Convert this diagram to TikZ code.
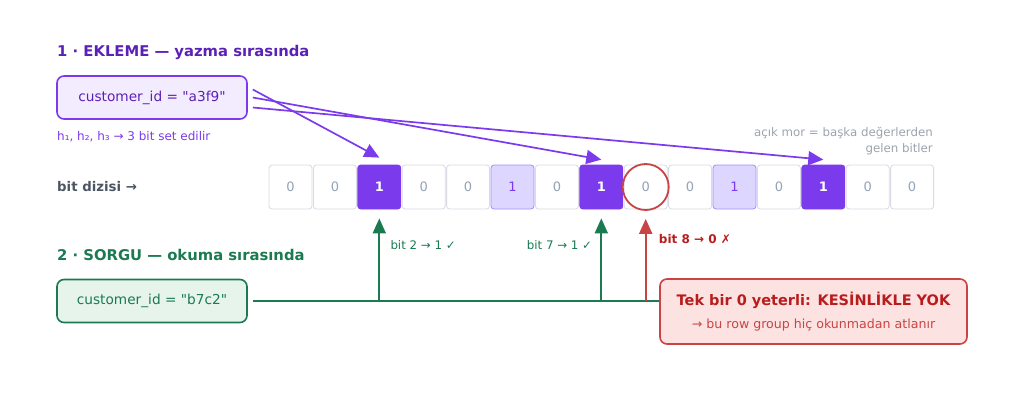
\documentclass[tikz,border=0pt]{standalone}
\usepackage{fontspec}
\setmainfont{DejaVu Sans}[Ligatures=TeXOff]
\usetikzlibrary{positioning}
\usetikzlibrary{arrows.meta}

\definecolor{purp}{HTML}{7C3AED}
\definecolor{purpdark}{HTML}{5B21B6}
\definecolor{purpfill}{HTML}{F3ECFF}
\definecolor{lightfill}{HTML}{DDD6FE}
\definecolor{lightline}{HTML}{A78BFA}
\definecolor{cellline}{HTML}{D8DAE5}
\definecolor{zerotext}{HTML}{94A3B8}
\definecolor{legendgray}{HTML}{9CA3AF}
\definecolor{slate}{HTML}{4B5563}
\definecolor{grn}{HTML}{1B7A52}
\definecolor{grnfill}{HTML}{E6F4EC}
\definecolor{rd}{HTML}{C94444}
\definecolor{rdfill}{HTML}{FDE2E2}
\definecolor{rdtext}{HTML}{B91C1C}

\tikzset{
  bit/.style={draw=cellline, fill=white, rounded corners=3pt, line width=0.8pt,
    minimum width=43pt, minimum height=44pt, inner sep=0pt,
    text=zerotext, font=\fontsize{13}{15}\selectfont},
  bitset/.style={bit, draw=purp, fill=purp, text=white, font=\bfseries\fontsize{13}{15}\selectfont},
  bitother/.style={bit, draw=lightline, fill=lightfill, text=purp},
  keybox/.style={rounded corners=7pt, line width=1.6pt, minimum width=190pt,
    minimum height=43pt, font=\fontsize{13.7}{16}\selectfont},
  hash/.style={draw=purp, line width=1.7pt, -{Triangle[length=15pt,width=14pt]}},
  probe/.style={draw=grn, line width=1.8pt, -{Triangle[length=15pt,width=13pt]}},
  heading/.style={anchor=west, inner sep=0pt, font=\bfseries\fontsize{14.8}{17}\selectfont},
  small/.style={inner sep=0pt, font=\fontsize{11.8}{16}\selectfont},
}

\begin{document}
\begin{tikzpicture}[x=1pt,y=1pt]
  \useasboundingbox (0,0) rectangle (1024,-400);

  % section 1
  \node[heading, text=purpdark] (t1) at (57,-52) {1 · EKLEME — yazma sırasında};
  \node[keybox, draw=purp, fill=purpfill, text=purpdark] (ins) at (152,-97.5) {customer\_id = "a3f9"};
  \node[small, anchor=west, text=purp, font=\fontsize{12}{14}\selectfont] (hint) at (57,-137) {h₁, h₂, h₃ → 3 bit set edilir};
  \node[small, anchor=east, align=right, text=legendgray] (legend) at (933,-141) {açık mor = başka değerlerden\\gelen bitler};

  % bit array
  \node[anchor=west, inner sep=0pt, text=slate, font=\bfseries\fontsize{13.3}{15}\selectfont] (lbl) at (57,-187) {bit dizisi →};
  \foreach \s/\v [count=\i from 0] in {bit/0, bit/0, bitset/1, bit/0, bit/0, bitother/1, bit/0, bitset/1,
      bit/0, bit/0, bitother/1, bit/0, bitset/1, bit/0, bit/0}
    \node[\s] (b\i) at ({290.5+44.4*\i},-187) {\v};
  \node[draw=rd, circle, line width=1.8pt, minimum size=46pt] (miss) at (b8) {};

  \draw[hash] ([xshift=5pt,yshift=8pt]ins.east) -- ([yshift=7pt]b2.north);
  \draw[hash] ([xshift=5pt,yshift=0pt]ins.east) -- ([yshift=5pt]b7.north);
  \draw[hash] ([xshift=5pt,yshift=-10pt]ins.east) -- ([yshift=5pt]b12.north);

  % section 2
  \node[heading, text=grn] (t2) at (57,-255) {2 · SORGU — okuma sırasında};
  \node[keybox, draw=grn, fill=grnfill, text=grn] (qry) at (152,-301) {customer\_id = "b7c2"};
  \node[rounded corners=7pt, line width=1.6pt, draw=rd, fill=rdfill, minimum width=307pt,
    minimum height=65pt, align=center] (res) at (813.5,-311.5)
    {{\bfseries\fontsize{14.5}{16}\selectfont\color{rdtext}Tek bir 0 yeterli: KESİNLİKLE YOK}\\[10pt]
     {\fontsize{12.6}{14}\selectfont\color{rd}→ bu row group hiç okunmadan atlanır}};

  \draw[grn, line width=1.8pt] ([xshift=5pt]qry.east) -- (qry.east -| res.west);
  \draw[probe] (b2.south |- qry.east) -- ([yshift=-9pt]b2.south);
  \draw[probe] (b7.south |- qry.east) -- ([yshift=-9pt]b7.south);
  \draw[probe, draw=rd, fill=rd, line width=2.2pt] (miss.south |- qry.east) -- ([yshift=-8pt]miss.south);

  \node[small, anchor=west, text=grn] (p2) at ([xshift=11pt,yshift=-36pt]b2.south) {bit 2 → 1 ✓};
  \node[small, anchor=east, text=grn] (p7) at ([xshift=-9pt,yshift=-36pt]b7.south) {bit 7 → 1 ✓};
  \node[small, anchor=west, text=rdtext, font=\bfseries\fontsize{12}{14}\selectfont] (p8) at ([xshift=13pt,yshift=-30pt]b8.south) {bit 8 → 0 ✗};
\end{tikzpicture}
\end{document}
